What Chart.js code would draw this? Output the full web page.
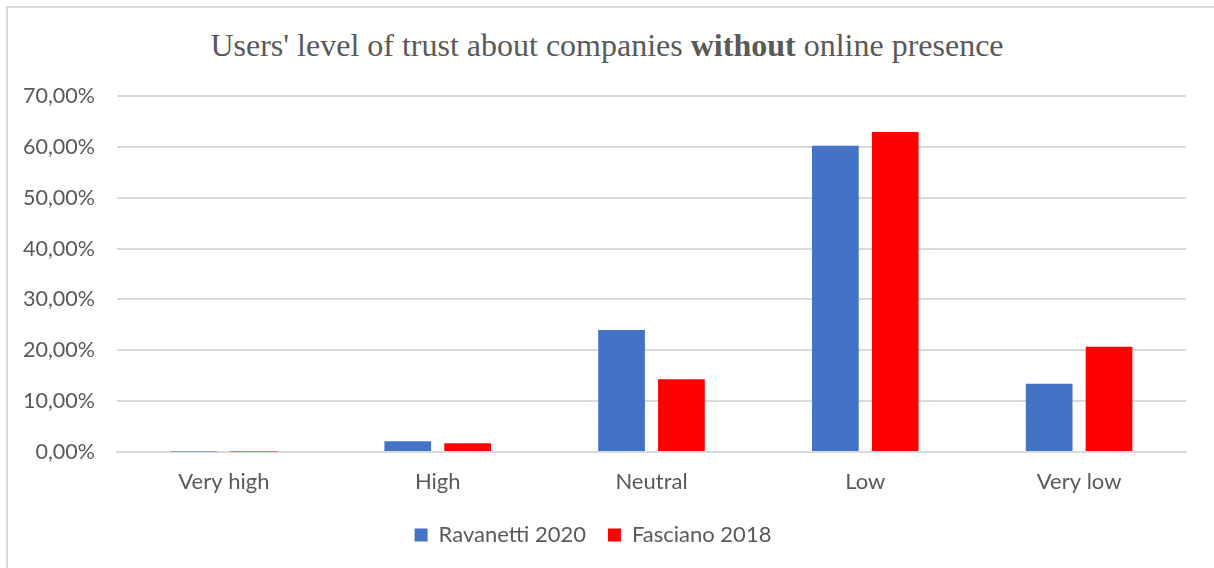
<!DOCTYPE html>
<html>
<head>
<meta charset="utf-8">
<script src="https://cdn.jsdelivr.net/npm/chart.js@4.4.1/dist/chart.umd.min.js"></script>
<style>
  html, body { margin: 0; padding: 0; background: #fff; }
  #frame {
    position: absolute; left: 6px; top: 6px; width: 1220px; height: 580px;
    border: 2px solid #d9d9d9; box-sizing: border-box;
  }
  #title {
    position: absolute; left: 0; top: 27px; width: 1214px; text-align: center;
    font-family: "Liberation Serif", "DejaVu Serif", serif; font-size: 32px;
    color: #595959; white-space: nowrap;
  }
  #wrap { position: absolute; left: 0; top: 0; width: 1214px; height: 568px; }
</style>
</head>
<body>
<div id="frame"></div>
<div id="title">Users' level of trust about companies <b>without</b> online presence</div>
<div id="wrap"><canvas id="chart"></canvas></div>
<script>
const categories = ["Very high", "High", "Neutral", "Low", "Very low"];
const ravanetti2020 = [0.1, 2.1, 24.0, 60.2, 13.4];
const fasciano2018 = [0.1, 1.7, 14.3, 62.9, 20.7];
const yTicks = [0, 10, 20, 30, 40, 50, 60, 70];

const fontFamily = "Lato, 'Open Sans', sans-serif";
const textColor = "#595959";

const fmtPct = (v) => v.toFixed(2).replace(".", ",") + "%";

const ctx = document.getElementById("chart");

new Chart(ctx, {
  type: "bar",
  data: {
    labels: categories,
    datasets: [
      {
        label: "Ravanetti 2020",
        data: ravanetti2020,
        backgroundColor: "#4472c4",
        borderWidth: 0,
      },
      {
        label: "Fasciano 2018",
        data: fasciano2018,
        backgroundColor: "#ff0000",
        borderWidth: 0,
      },
    ],
  },
  options: {
    responsive: true,
    maintainAspectRatio: false,
    animation: false,
    layout: {
      padding: { top: 96, right: 28, left: 0, bottom: 12 },
    },
    datasets: {
      bar: { categoryPercentage: 0.56, barPercentage: 0.78 },
    },
    plugins: {
      title: { display: false },
      tooltip: { enabled: false },
      legend: {
        position: "bottom",
        labels: {
          boxWidth: 13,
          boxHeight: 13,
          padding: 22,
          color: textColor,
          font: { family: fontFamily, size: 22 },
        },
      },
    },
    scales: {
      x: {
        afterFit: (scale) => { scale.height = 50; },
        grid: { display: false, drawTicks: false },
        border: { display: true, color: "#d9d9d9", width: 2 },
        ticks: {
          padding: 17,
          color: textColor,
          font: { family: fontFamily, size: 22 },
        },
      },
      y: {
        min: 0,
        max: 70,
        afterFit: (scale) => { scale.width = 117; },
        afterBuildTicks: (scale) => {
          scale.ticks = yTicks.map((v) => ({ value: v }));
        },
        grid: { color: "#d9d9d9", lineWidth: 2, drawTicks: false },
        border: { display: false },
        ticks: {
          padding: 22,
          color: textColor,
          font: { family: fontFamily, size: 21.5 },
          callback: (v) => fmtPct(v),
        },
      },
    },
  },
});
</script>
</body>
</html>
